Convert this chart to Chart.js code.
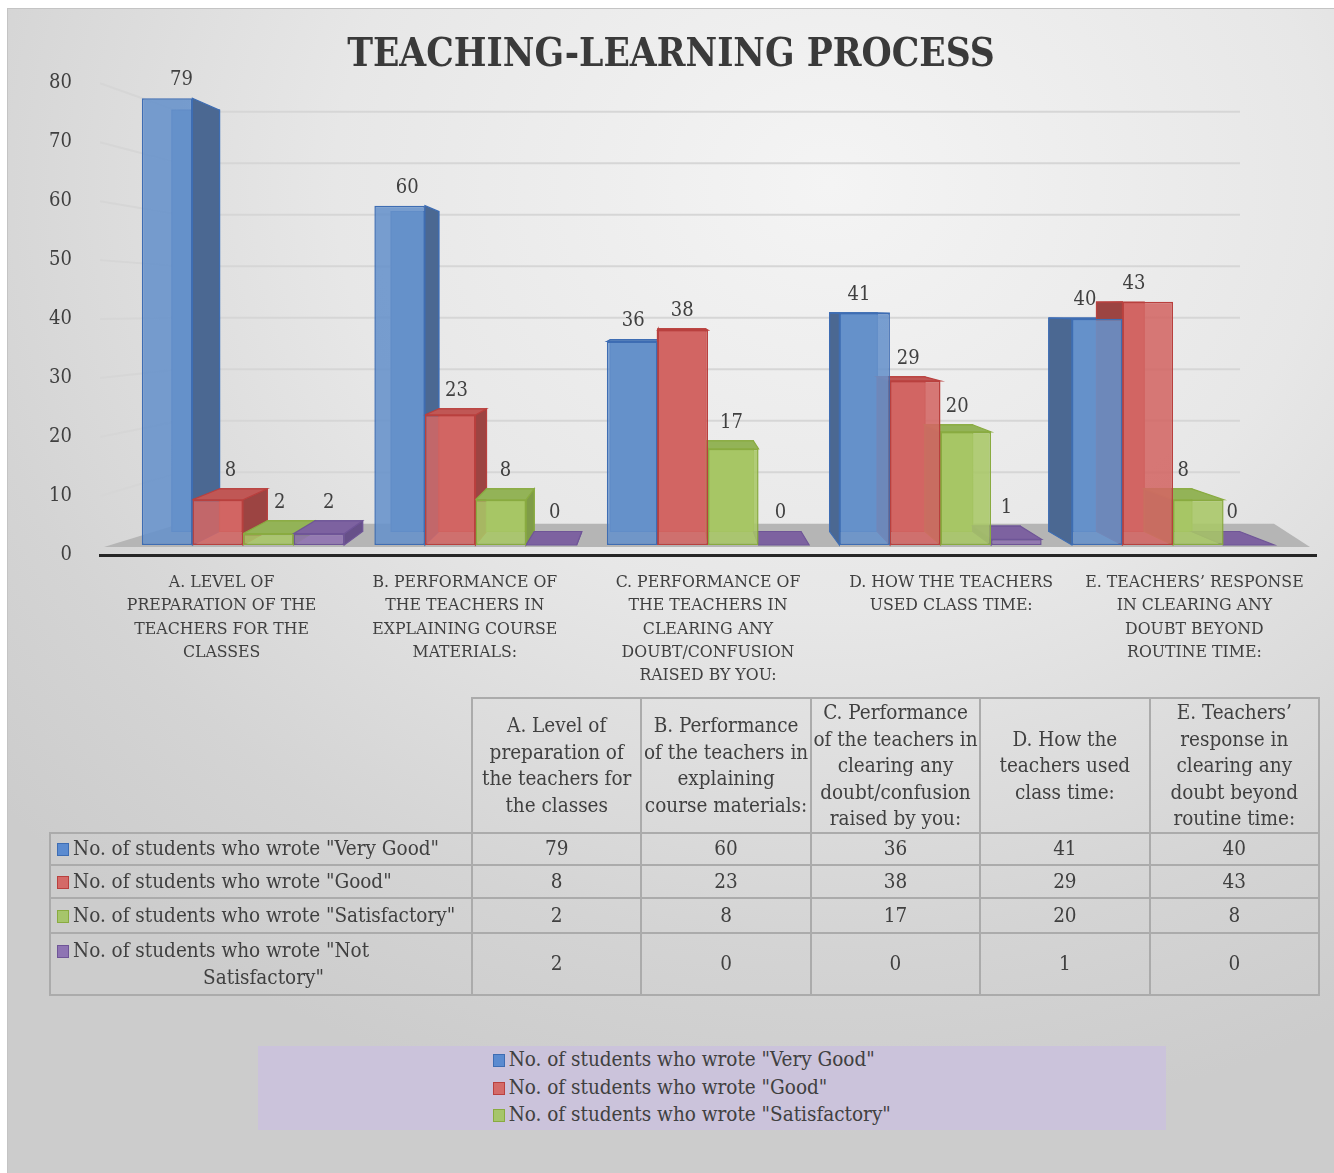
<!DOCTYPE html>
<html>
<head>
<meta charset="utf-8">
<title>Teaching-Learning Process</title>
<script src="https://cdn.jsdelivr.net/npm/chart.js@4.4.1/dist/chart.umd.min.js"></script>
<style>
  html, body { margin: 0; padding: 0; background: #fff; }
  body { width: 1334px; height: 1173px; position: relative; overflow: hidden;
         font-family: "DejaVu Serif Condensed", "Liberation Serif", serif; color: #404040; }
  #frame { position: absolute; left: 7px; top: 8px; right: 0; bottom: 0;
           border-top: 1px solid #c4c4c4; border-left: 1px solid #c4c4c4;
           background: radial-gradient(ellipse 1100px 950px at 62% 15%, #f4f4f4 0%, #e7e7e7 45%, #d4d4d4 80%, #cccccc 100%); }
  #chart { position: absolute; left: 0; top: 0; }
  #dataTable { position: absolute; left: 49px; top: 697px; width: 1271px; border-collapse: collapse;
               table-layout: fixed; font-size: 20.5px; line-height: 26.5px; color: #404040; }
  #dataTable th, #dataTable td { border: 2px solid #ababab; text-align: center; vertical-align: middle;
                                 font-weight: normal; padding: 0 1px; }
  #dataTable th.blank { border-top: none; border-left: none; }
  #dataTable tr.head th { height: 131px; }
  #dataTable td.name { text-align: left; padding-left: 6px; }
  #dataTable tr.last td.name { text-align-last: center; }
  .sw { display: inline-block; width: 10px; height: 11px; border: 1.5px solid; margin-right: 4px; vertical-align: -1px; }
  #legend { position: absolute; left: 258px; top: 1046px; width: 908px; height: 84px; background: #cbc3db;
            overflow: hidden; text-align: center; font-size: 20.5px; line-height: 27.5px; color: #404040; }
  #legend .inner { display: inline-block; text-align: left; }
</style>
</head>
<body>
<div id="frame"></div>
<canvas id="chart" width="1334" height="700"></canvas>
<table id="dataTable"></table>
<div id="legend"><div class="inner" id="legendItems"></div></div>
<script>
const categories = [
  "A. Level of preparation of the teachers for the classes",
  "B. Performance of the teachers in explaining course materials:",
  "C. Performance of the teachers in clearing any doubt/confusion raised by you:",
  "D. How the teachers used class time:",
  "E. Teachers’ response in clearing any doubt beyond routine time:"
];
const axisLabels = [
  ["A. LEVEL OF", "PREPARATION OF THE", "TEACHERS FOR THE", "CLASSES"],
  ["B. PERFORMANCE OF", "THE TEACHERS IN", "EXPLAINING COURSE", "MATERIALS:"],
  ["C. PERFORMANCE OF", "THE TEACHERS IN", "CLEARING ANY", "DOUBT/CONFUSION", "RAISED BY YOU:"],
  ["D. HOW THE TEACHERS", "USED CLASS TIME:"],
  ["E. TEACHERS’ RESPONSE", "IN CLEARING ANY", "DOUBT BEYOND", "ROUTINE TIME:"]
];
const seriesNames = [
  'No. of students who wrote "Very Good"',
  'No. of students who wrote "Good"',
  'No. of students who wrote "Satisfactory"',
  'No. of students who wrote "Not Satisfactory"'
];
const veryGood = [79, 60, 36, 41, 40];
const good = [8, 23, 38, 29, 43];
const satisfactory = [2, 8, 17, 20, 8];
const notSatisfactory = [2, 0, 0, 1, 0];
const yMin = 0, yMax = 80, yStep = 10;

const seriesValues = [veryGood, good, satisfactory, notSatisfactory];
const FONT = '"DejaVu Serif Condensed", "Liberation Serif", serif';
const INK = '#404040';

// per series: front face, back face, side face, top face, edges, legend swatch
const palette = [
  { front: 'rgba(103,146,203,0.88)', back: '#5f8ac4', side: '#4b6892', top: '#5a83bb', edge: '#3e6db3', swatch: '#5b8bd0' },
  { front: 'rgba(211,102,100,0.88)', back: '#c95d5b', side: '#9c4442', top: '#c05755', edge: '#b9403e', swatch: '#d46a68' },
  { front: 'rgba(168,199,102,0.88)', back: '#9fbf5e', side: '#7f9c48', top: '#93b357', edge: '#89ab40', swatch: '#a6c56b' },
  { front: 'rgba(143,114,178,0.88)', back: '#876aab', side: '#675089', top: '#7d62a0', edge: '#6f5597', swatch: '#8e74b3' }
];

// fake perspective: back faces shrink toward a vanishing point
const VP = { x: 668, y: 308 };
const BAR_DEPTH = 0.943;
const WALL_DEPTH = 0.873;
const WALL_LEFT = 180, WALL_RIGHT = 1240, FLOOR_BACK_RIGHT = 1274;

const toBack = (x, y, s) => ({ x: VP.x + (x - VP.x) * s, y: VP.y + (y - VP.y) * s });

function poly(ctx, pts, fill, stroke, lw) {
  ctx.beginPath();
  ctx.moveTo(pts[0].x, pts[0].y);
  for (let i = 1; i < pts.length; i++) ctx.lineTo(pts[i].x, pts[i].y);
  ctx.closePath();
  if (fill) { ctx.fillStyle = fill; ctx.fill(); }
  if (stroke) { ctx.strokeStyle = stroke; ctx.lineWidth = lw || 1; ctx.stroke(); }
}

const scene3d = {
  id: 'scene3d',
  beforeDatasetsDraw(chart) {
    const ctx = chart.ctx;
    const { left, right } = chart.chartArea;
    const yS = chart.scales.y;
    const yB = chart.scales.yb;
    ctx.save();

    // back wall grid lines
    ctx.strokeStyle = '#d6d6d6';
    ctx.lineWidth = 2;
    yS.ticks.forEach((t) => {
      if (t.value === yMin) return;
      const p = yS.getPixelForValue(t.value);
      const b = VP.y + (p - VP.y) * WALL_DEPTH;
      ctx.beginPath();
      ctx.moveTo(left, p);
      ctx.lineTo(WALL_LEFT, b);
      ctx.lineTo(WALL_RIGHT, b);
      ctx.stroke();
    });

    // floor
    const front = yB.getPixelForValue(0) + 2;
    const backY = VP.y + (yS.getPixelForValue(yMin) - VP.y) * WALL_DEPTH;
    poly(ctx, [
      { x: left + 4, y: front }, { x: right - 6, y: front },
      { x: FLOOR_BACK_RIGHT, y: backY }, { x: WALL_LEFT, y: backY }
    ], '#b5b5b5');

    // back, side and top faces of every bar
    chart.data.datasets.forEach((ds, di) => {
      const c = palette[di];
      chart.getDatasetMeta(di).data.forEach((el) => {
        const { x, y, base, width } = el.getProps(['x', 'y', 'base', 'width'], true);
        const L = x - width / 2, R = x + width / 2;
        const fLT = { x: L, y: y }, fRT = { x: R, y: y }, fRB = { x: R, y: base }, fLB = { x: L, y: base };
        const bLT = toBack(L, y, BAR_DEPTH), bRT = toBack(R, y, BAR_DEPTH);
        const bRB = toBack(R, base, BAR_DEPTH), bLB = toBack(L, base, BAR_DEPTH);
        poly(ctx, [bLT, bRT, bRB, bLB], c.back, c.edge, 1.2);
        if (x < VP.x) poly(ctx, [fRT, bRT, bRB, fRB], c.side, c.edge, 1.2);
        else poly(ctx, [fLT, bLT, bLB, fLB], c.side, c.edge, 1.2);
        if (y > VP.y) poly(ctx, [fLT, fRT, bRT, bLT], c.top, c.edge, 1.2);
      });
    });
    ctx.restore();
  },
  afterDatasetsDraw(chart) {
    const ctx = chart.ctx;
    ctx.save();
    ctx.font = '20px ' + FONT;
    ctx.fillStyle = INK;
    ctx.textAlign = 'center';
    ctx.textBaseline = 'alphabetic';
    chart.data.datasets.forEach((ds, di) => {
      chart.getDatasetMeta(di).data.forEach((el, i) => {
        const { x, y } = el.getProps(['x', 'y'], true);
        const b = toBack(x, y, BAR_DEPTH);
        ctx.fillText(String(ds.data[i].y), (x + b.x) / 2, Math.min(y, b.y) - 13);
      });
    });
    ctx.restore();
  }
};

const chart = new Chart(document.getElementById('chart'), {
  type: 'bar',
  data: {
    labels: axisLabels,
    datasets: seriesNames.map((name, i) => ({
      label: name,
      data: seriesValues[i].map((v, j) => ({ x: j, y: v })),
      xAxisID: 'xb',
      yAxisID: 'yb',
      backgroundColor: palette[i].front,
      borderColor: palette[i].edge,
      borderWidth: 1.5,
      borderSkipped: false,
      categoryPercentage: 0.87,
      barPercentage: 1
    }))
  },
  options: {
    responsive: false,
    animation: false,
    layout: { padding: { left: 26, right: 18, top: 0, bottom: 0 } },
    plugins: {
      legend: { display: false },
      tooltip: { enabled: false },
      title: {
        display: true,
        text: 'TEACHING-LEARNING PROCESS',
        color: '#3a3a3a',
        font: { family: FONT, size: 38.5, weight: 'bold', lineHeight: 1.2 },
        padding: { top: 33, bottom: 4 }
      }
    },
    scales: {
      x: {
        type: 'category',
        offset: true,
        grid: { display: false },
        border: { display: true, color: '#262626', width: 3 },
        ticks: { color: INK, font: { family: FONT, size: 17.5, lineHeight: 1.33 }, padding: 8, maxRotation: 0, autoSkip: false },
        afterFit(s) { s.height = 145; }
      },
      xb: {
        type: 'linear',
        display: false,
        offset: false,
        grid: { offset: false },
        min: -0.615,
        max: 4.615,
        ticks: { stepSize: 1 },
        afterBuildTicks(s) { s.ticks = s.ticks.filter((t) => Number.isInteger(t.value)); }
      },
      y: {
        type: 'linear',
        min: yMin,
        max: yMax,
        grid: { display: false },
        border: { display: false },
        ticks: { stepSize: yStep, color: INK, font: { family: FONT, size: 20 }, padding: 20 },
        afterFit(s) { s.width = 74; }
      },
      yb: { type: 'linear', display: false, min: -1.77, max: 81.65 }
    }
  },
  plugins: [scene3d]
});

// data table under the chart
const table = document.getElementById('dataTable');
let html = '<colgroup><col style="width:422px">' + categories.map(() => '<col>').join('') + '</colgroup>';
html += '<tr class="head"><th class="blank"></th>' + categories.map((c) => '<th>' + c + '</th>').join('') + '</tr>';
const rowHeights = [32, 33, 35, 62];
seriesNames.forEach((name, i) => {
  const cls = i === seriesNames.length - 1 ? ' class="last"' : '';
  html += '<tr' + cls + ' style="height:' + rowHeights[i] + 'px"><td class="name"><span class="sw" style="background:' +
    palette[i].swatch + ';border-color:' + palette[i].edge + '"></span>' + name + '</td>' +
    seriesValues[i].map((v) => '<td>' + v + '</td>').join('') + '</tr>';
});
table.innerHTML = html;

// legend box, built from the chart's own legend items
const items = Chart.defaults.plugins.legend.labels.generateLabels(chart);
document.getElementById('legendItems').innerHTML = items.map((it) =>
  '<div><span class="sw" style="background:' + palette[it.datasetIndex].swatch + ';border-color:' +
  palette[it.datasetIndex].edge + '"></span>' + it.text + '</div>').join('');
</script>
</body>
</html>
